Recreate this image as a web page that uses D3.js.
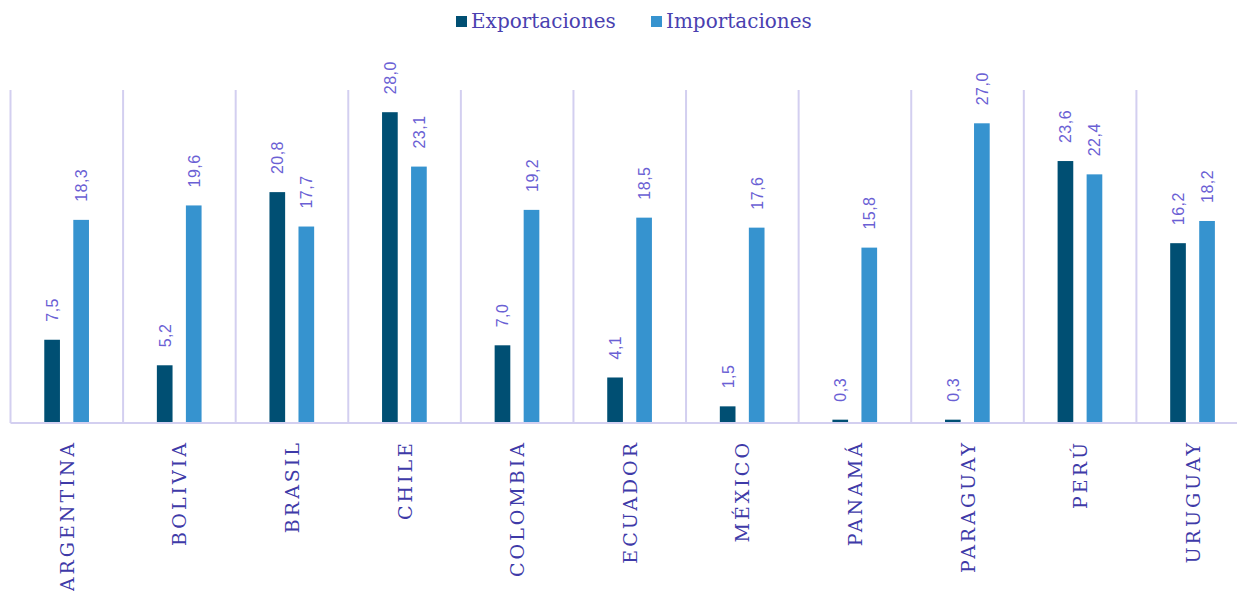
<!DOCTYPE html>
<html>
<head>
<meta charset="utf-8">
<script src="https://cdn.jsdelivr.net/npm/d3@7"></script>
<style>
  body { margin: 0; background: #ffffff; }
  svg { display: block; }
</style>
</head>
<body>
<div id="chart"></div>
<script>
const countries = ["ARGENTINA", "BOLIVIA", "BRASIL", "CHILE", "COLOMBIA", "ECUADOR",
  "MÉXICO", "PANAMÁ", "PARAGUAY", "PERÚ", "URUGUAY"];
const seriesNames = ["Exportaciones", "Importaciones"];
const exportaciones = [7.5, 5.2, 20.8, 28.0, 7.0, 4.1, 1.5, 0.3, 0.3, 23.6, 16.2];
const importaciones = [18.3, 19.6, 17.7, 23.1, 19.2, 18.5, 17.6, 15.8, 27.0, 22.4, 18.2];
const seriesColors = ["#004f73", "#3693cf"];

const width = 1237, height = 591;
const svg = d3.select("#chart").append("svg")
    .attr("width", width)
    .attr("height", height);

// scales
const x = d3.scaleBand().domain(countries).range([10.5, 1249]).padding(0);
const xInner = d3.scaleBand().domain(seriesNames)
    .range([x.bandwidth() * 0.3, x.bandwidth() * 0.697])
    .paddingInner(0.46).paddingOuter(0);
const y = d3.scaleLinear().domain([0, 30]).range([423, 90]);

const gridColor = "#d3cff0";

// vertical separators between categories
svg.append("g").selectAll("line")
    .data(countries)
    .join("line")
    .attr("x1", d => x(d))
    .attr("x2", d => x(d))
    .attr("y1", y(30))
    .attr("y2", y(0))
    .attr("stroke", gridColor)
    .attr("stroke-width", 2);

// bars
const rows = countries.map((c, i) => ({
    country: c,
    values: [exportaciones[i], importaciones[i]]
}));

const groups = svg.append("g").selectAll("g")
    .data(rows)
    .join("g")
    .attr("transform", d => `translate(${x(d.country)},0)`);

groups.selectAll("rect")
    .data(d => d.values.map((v, k) => ({ key: seriesNames[k], v: v, k: k })))
    .join("rect")
    .attr("x", d => xInner(d.key))
    .attr("y", d => y(d.v))
    .attr("width", xInner.bandwidth())
    .attr("height", d => y(0) - y(d.v))
    .attr("fill", d => seriesColors[d.k]);

// value labels, rotated
groups.selectAll("text")
    .data(d => d.values.map((v, k) => ({ key: seriesNames[k], v: v })))
    .join("text")
    .attr("transform", d => `translate(${xInner(d.key) + xInner.bandwidth() / 2 + 6},${y(d.v) - 18}) rotate(-90)`)
    .attr("font-family", "Liberation Sans, Arial, sans-serif")
    .attr("font-size", 16)
    .attr("letter-spacing", 0.5)
    .attr("fill", "#6a60d4")
    .text(d => d.v.toFixed(1).replace(".", ","));

// baseline
svg.append("line")
    .attr("x1", 10.5).attr("x2", width)
    .attr("y1", y(0)).attr("y2", y(0))
    .attr("stroke", gridColor)
    .attr("stroke-width", 2);

// category labels
svg.append("g").selectAll("text")
    .data(countries)
    .join("text")
    .attr("transform", d => `translate(${x(d) + x.bandwidth() / 2 + 7},440) rotate(-90)`)
    .attr("text-anchor", "end")
    .attr("font-family", "DejaVu Serif, serif")
    .attr("font-size", 19)
    .attr("letter-spacing", 3)
    .attr("fill", "#3e3aa8")
    .text(d => d);

// legend
const legendX = [456, 651];
const legend = svg.append("g").selectAll("g")
    .data(seriesNames)
    .join("g")
    .attr("transform", (d, i) => `translate(${legendX[i]},16)`);

legend.append("rect")
    .attr("width", 11).attr("height", 11)
    .attr("fill", (d, i) => seriesColors[i]);

legend.append("text")
    .attr("x", 15).attr("y", 12)
    .attr("font-family", "DejaVu Serif, serif")
    .attr("font-size", 20)
    .attr("fill", "#4a3fb0")
    .text(d => d);
</script>
</body>
</html>
